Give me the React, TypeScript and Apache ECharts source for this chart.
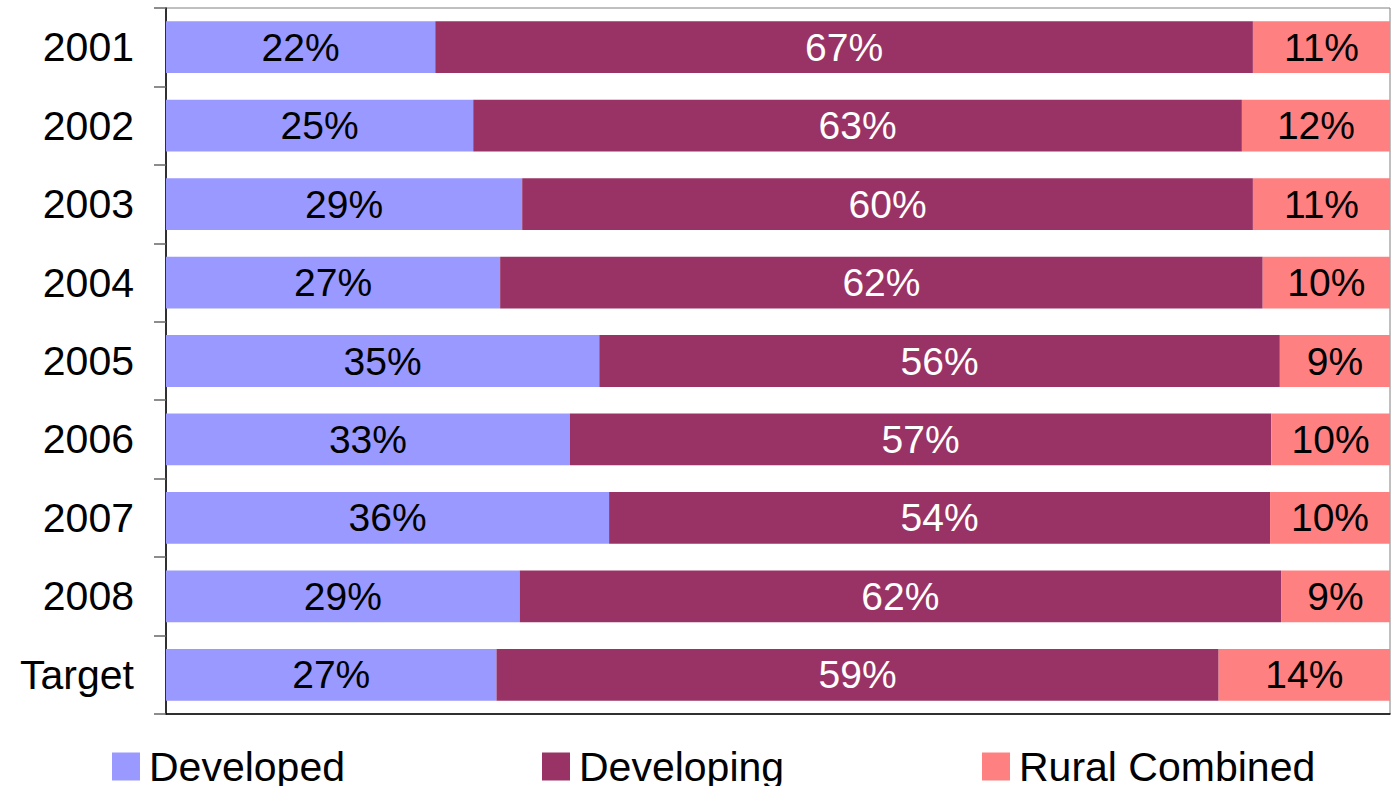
import React, { useEffect, useRef } from "react";
import * as echarts from "echarts";

const categories = ["2001", "2002", "2003", "2004", "2005", "2006", "2007", "2008", "Target"];
const developed = [22.0, 25.1, 29.1, 27.3, 35.4, 33.0, 36.2, 28.9, 27.0];
const developing = [66.8, 62.8, 59.7, 62.3, 55.6, 57.3, 54.0, 62.2, 59.0];
const rural = [11.2, 12.1, 11.2, 10.4, 9.0, 9.7, 9.8, 8.9, 14.0];

const FONT = "'Liberation Sans', Arial, sans-serif";

export default function App() {
  const ref = useRef<HTMLDivElement>(null);
  useEffect(() => {
    if (!ref.current) return;
    const chart = echarts.init(ref.current, null, { renderer: "svg" });
    const label = (color: string) => ({
      show: true,
      position: "inside",
      color,
      fontSize: 39,
      fontFamily: FONT,
      formatter: (p: any) => Math.round(p.value) + "%",
    });
    const legendBase = {
      top: 746,
      itemWidth: 28,
      itemHeight: 28,
      itemGap: 10,
      icon: "rect",
      textStyle: { fontSize: 41, fontFamily: FONT, color: "#000", lineHeight: 40, padding: [0, 0, 0, 4] },
      padding: 0,
    };
    chart.setOption({
      animation: false,
      backgroundColor: "#fff",
      textStyle: { fontFamily: FONT },
      grid: {
        left: 166,
        right: 2,
        top: 8,
        bottom: 72,
        show: true,
        borderColor: "#808080",
        borderWidth: 1,
      },
      legend: [
        { ...legendBase, left: 112, data: ["Developed"] },
        { ...legendBase, left: 542, data: ["Developing"] },
        { ...legendBase, left: 982, data: ["Rural Combined"] },
      ],
      xAxis: {
        type: "value",
        min: 0,
        max: 100,
        axisLine: { show: true, lineStyle: { color: "#000", width: 1.5 } },
        axisTick: { show: false },
        axisLabel: { show: false },
        splitLine: { show: false },
      },
      yAxis: {
        type: "category",
        data: categories,
        inverse: true,
        axisLine: { show: true, lineStyle: { color: "#000", width: 1.5 } },
        axisTick: { show: true, length: 12, lineStyle: { color: "#666", width: 1.5 } },
        axisLabel: { color: "#000", fontSize: 41, fontFamily: FONT, margin: 32 },
        splitLine: { show: false },
      },
      series: [
        {
          name: "Developed",
          type: "bar",
          stack: "a",
          data: developed,
          barCategoryGap: "34%",
          itemStyle: { color: "#9999FF" },
          label: label("#000"),
        },
        {
          name: "Developing",
          type: "bar",
          stack: "a",
          data: developing,
          barCategoryGap: "34%",
          itemStyle: { color: "#993366" },
          label: label("#fff"),
        },
        {
          name: "Rural Combined",
          type: "bar",
          stack: "a",
          data: rural,
          barCategoryGap: "34%",
          itemStyle: { color: "#FF8080" },
          label: label("#000"),
        },
      ],
    });
    return () => chart.dispose();
  }, []);
  return <div ref={ref} style={{ width: 1392, height: 786, position: "absolute", left: 0, top: 0 }} />;
}
